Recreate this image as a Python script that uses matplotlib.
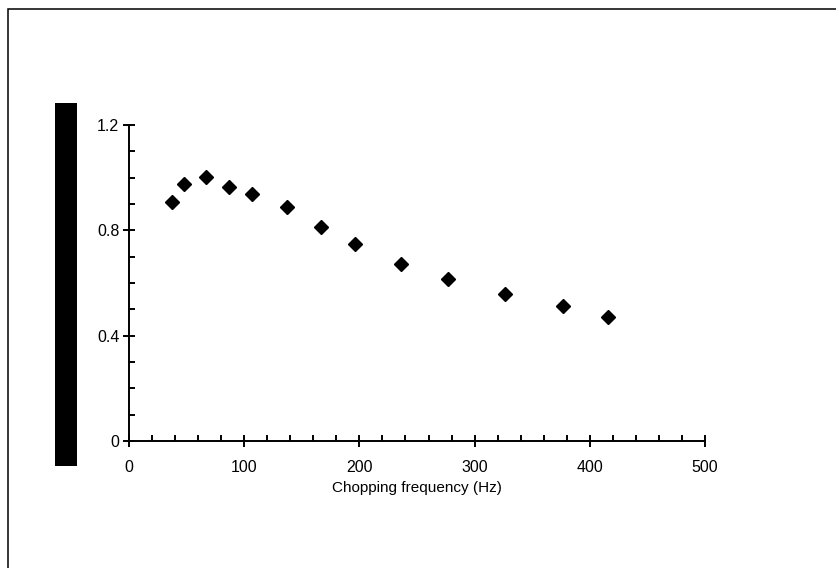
#!/usr/bin/env python3
"""Chopping frequency scatter"""
import matplotlib
matplotlib.use('Agg')
import matplotlib.pyplot as plt
from matplotlib.patches import Rectangle
from matplotlib.ticker import MultipleLocator

plt.rcParams['font.family'] = ['Liberation Sans', 'DejaVu Sans']

freq = [37, 48, 67, 87, 107, 137, 167, 196, 236, 277, 326, 377, 416]
signal = [0.909, 0.975, 1.001, 0.964, 0.937, 0.888, 0.814, 0.747, 0.672, 0.615, 0.559, 0.512, 0.472]

W, H = 837, 568
fig = plt.figure(figsize=(W / 100, H / 100), dpi=100)
ax = fig.add_axes([129 / W, 1 - 441 / H, 576 / W, 316 / H])

ax.plot(freq, signal, linestyle='none', marker='D', markersize=7.5, color='black')

ax.set_xlim(0, 500); ax.set_ylim(0, 1.2)
ax.xaxis.set_major_locator(MultipleLocator(100)); ax.xaxis.set_minor_locator(MultipleLocator(20))
ax.yaxis.set_major_locator(MultipleLocator(0.4)); ax.yaxis.set_minor_locator(MultipleLocator(0.1))
ax.xaxis.set_major_formatter(plt.FuncFormatter(lambda v, p: f'{v:g}'))
ax.yaxis.set_major_formatter(plt.FuncFormatter(lambda v, p: f'{v:g}'))
for s in ('top', 'right'):
    ax.spines[s].set_visible(False)
for s in ('left', 'bottom'):
    ax.spines[s].set_linewidth(1.4)
ax.tick_params(which='major', direction='inout', length=8, width=1.4, labelsize=11.5)
ax.tick_params(axis='x', which='major', pad=10)
ax.tick_params(axis='y', which='major', pad=3)
ax.tick_params(which='minor', direction='in', length=4, width=1.4)
ax.set_xlabel('Chopping frequency (Hz)', fontsize=11, labelpad=4)

# redacted y label block + figure frame
fig.patches.append(Rectangle((55 / W, 1 - 466 / H), 22 / W, 363 / H, transform=fig.transFigure,
                             facecolor='black', edgecolor='none'))
fig.patches.append(Rectangle((8 / W, -0.1), 1.2, 1 - 9 / H + 0.1, transform=fig.transFigure,
                             facecolor='none', edgecolor='black', linewidth=1.1))

plt.savefig('out.png', dpi=100)
